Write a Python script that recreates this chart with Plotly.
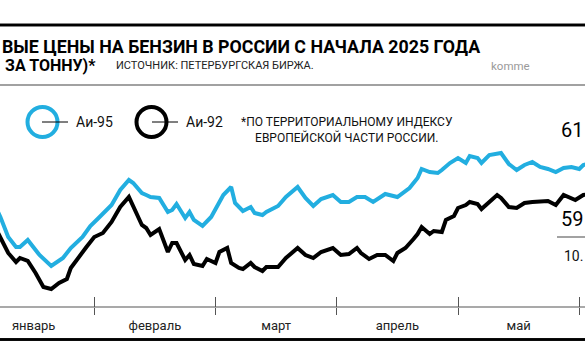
import plotly.graph_objects as go

# ---------------- data (rub per tonne) ----------------
months = ["январь", "февраль", "март", "апрель", "май", "июнь"]

dates_95 = ["01-06", "01-08", "01-10", "01-12", "01-13", "01-15", "01-18", "01-21", "01-24", "01-26",
            "01-29", "01-31", "02-02", "02-05", "02-07", "02-09", "02-10", "02-12", "02-13", "02-14",
            "02-16", "02-18", "02-19", "02-20", "02-22", "02-23", "02-24", "02-26", "02-28", "03-02",
            "03-03", "03-05", "03-06", "03-08", "03-10", "03-11", "03-13", "03-14", "03-16", "03-17",
            "03-19", "03-22", "03-24", "03-26", "03-28", "03-31", "04-02", "04-04", "04-06", "04-08",
            "04-10", "04-13", "04-16", "04-19", "04-21", "04-22", "04-24", "04-26", "04-27", "04-29",
            "05-01", "05-03", "05-04", "05-06", "05-07", "05-09", "05-12", "05-14", "05-16", "05-18",
            "05-20", "05-22", "05-24", "05-26", "05-28", "05-30", "06-01", "06-02", "06-04", "06-06",
            "06-10"]
ai95 = [59460, 58440, 57240, 56640, 56640, 57060, 56160, 55500, 55980, 56580,
        57240, 57900, 58380, 59160, 60060, 60660, 60480, 59880, 59760, 59640,
        59580, 58740, 58860, 59220, 58380, 58740, 58260, 57900, 58440, 59280,
        59760, 60240, 59280, 58800, 59040, 58680, 58560, 58740, 58980, 59100,
        59640, 60240, 59580, 59100, 59520, 59760, 59340, 59340, 59640, 59640,
        59340, 59820, 59640, 60180, 60780, 61320, 61140, 61080, 61260, 61680,
        61980, 61680, 62100, 61980, 61680, 62160, 62280, 61620, 61260, 61560,
        61740, 61440, 61320, 61140, 61380, 61440, 61320, 61560, 61680, 61860,
        61740]

dates_92 = ["01-06", "01-08", "01-10", "01-12", "01-13", "01-15", "01-17", "01-19", "01-21", "01-23",
            "01-25", "01-26", "01-28", "01-30", "02-01", "02-03", "02-05", "02-07", "02-09", "02-10",
            "02-12", "02-13", "02-14", "02-16", "02-18", "02-19", "02-20", "02-22", "02-23", "02-24",
            "02-26", "02-27", "03-01", "03-02", "03-04", "03-05", "03-07", "03-08", "03-10", "03-11",
            "03-13", "03-14", "03-17", "03-19", "03-20", "03-22", "03-24", "03-26", "03-28", "03-31",
            "04-02", "04-04", "04-06", "04-07", "04-09", "04-11", "04-13", "04-15", "04-16", "04-18",
            "04-20", "04-21", "04-22", "04-24", "04-25", "04-27", "04-28", "04-30", "05-01", "05-03",
            "05-04", "05-06", "05-07", "05-09", "05-11", "05-12", "05-14", "05-16", "05-18", "05-20",
            "05-24", "05-26", "05-28", "05-31", "06-02", "06-04", "06-06", "06-10"]
ai92 = [58140, 57180, 56280, 55740, 55980, 55800, 55080, 54240, 54120, 54480,
        54720, 55380, 56040, 56640, 57240, 57480, 58140, 59040, 59640, 59040,
        57960, 57780, 57360, 57720, 56340, 56880, 56880, 55860, 56160, 55620,
        55500, 55920, 55680, 56340, 56580, 55680, 55380, 55320, 55680, 55440,
        55200, 55440, 55440, 55980, 56160, 56580, 56160, 55980, 56340, 56580,
        56160, 56220, 56580, 56280, 55920, 56160, 56160, 55800, 56280, 56580,
        57120, 57420, 57840, 57420, 57600, 57540, 58260, 58500, 58980, 59160,
        59340, 59220, 58920, 59340, 59760, 59580, 59040, 58980, 59280, 59340,
        59400, 59160, 59760, 59460, 59760, 59820, 59880, 59940]

# texts as they appear in the (cropped) graphic
title_text = "ВЫЕ ЦЕНЫ НА БЕНЗИН В РОССИИ С НАЧАЛА 2025 ГОДА"
unit_text = "ЗА ТОННУ)*"
source_text = "ИСТОЧНИК: ПЕТЕРБУРГСКАЯ БИРЖА."
site_text = "komme"
note_text = "*ПО ТЕРРИТОРИАЛЬНОМУ ИНДЕКСУ<br>ЕВРОПЕЙСКОЙ ЧАСТИ РОССИИ."
series_names = ["Аи-95", "Аи-92"]
end_label_95 = "61"
end_label_92 = "59"
end_date_label = "10."

# each month gets the same width on the axis (as in the original graphic)
DAYS = [31, 28, 31, 30, 31, 30]


def month_pos(d):
    m, day = int(d[:2]), int(d[3:])
    return (m - 1) + (day - 1) / DAYS[m - 1]


x95 = [month_pos(d) for d in dates_95]
x92 = [month_pos(d) for d in dates_92]

# ---------------- styling ----------------
W, H = 585, 362
BLUE = "#22aee0"
FONT = "Roboto, Liberation Sans, sans-serif"


def px(x):
    return x / W


def py(y):
    return 1 - y / H


fig = go.Figure()
fig.add_trace(go.Scatter(x=x92, y=ai92, name=series_names[1], mode="lines",
                         line=dict(color="#000000", width=4), hoverinfo="skip", showlegend=False))
fig.add_trace(go.Scatter(x=x95, y=ai95, name=series_names[0], mode="lines",
                         line=dict(color=BLUE, width=4), hoverinfo="skip", showlegend=False))
# overlay axis carrying the upward part of the month-boundary ticks
fig.add_trace(go.Scatter(x=[], y=[], xaxis="x2", yaxis="y", showlegend=False, hoverinfo="skip"))

x_range = [27 / 121.25, 612 / 121.25]
axis_y_px = 307
top_px = 140
val_per_px = 60.0
ref_val, ref_px = 61500, 166
y_lo = ref_val - (axis_y_px - ref_px) * val_per_px
y_hi = ref_val + (ref_px - top_px) * val_per_px


def rule(y_mid, width, color, x0=-2, x1=W + 2):
    return dict(type="rect", xref="paper", yref="paper", x0=px(x0), x1=px(x1),
                y0=py(y_mid + width / 2), y1=py(y_mid - width / 2), fillcolor=color,
                line=dict(width=0))


shapes = [
    # legend symbols
    dict(type="circle", xref="paper", yref="paper", x0=px(27.5), x1=px(57.5), y0=py(137), y1=py(107),
         line=dict(color=BLUE, width=4)),
    dict(type="line", xref="paper", yref="paper", x0=px(42), x1=px(68), y0=py(122), y1=py(122),
         line=dict(color="#000", width=1)),
    dict(type="circle", xref="paper", yref="paper", x0=px(136.5), x1=px(166.5), y0=py(137), y1=py(107),
         line=dict(color="#000", width=4)),
    dict(type="line", xref="paper", yref="paper", x0=px(152), x1=px(178), y0=py(122), y1=py(122),
         line=dict(color="#000", width=1)),
    rule(85, 1, "#444"),                # thin rule under the heading
    rule(307, 1, "#555"),               # time axis line
    rule(237, 1, "#444", x0=557),       # callout separator
    rule(25, 2.6, "#000"),              # top heavy rule
    rule(339.5, 2.6, "#000"),           # bottom heavy rule
]

annotations = [
    dict(text=title_text, x=px(0), y=py(46), xanchor="left", yanchor="middle",
         font=dict(family=FONT, size=17.8, color="#000", weight=700)),
    dict(text=unit_text, x=px(3), y=py(66), xanchor="left", yanchor="middle",
         font=dict(family=FONT, size=16, color="#000", weight=700)),
    dict(text=source_text, x=px(114), y=py(66), xanchor="left", yanchor="middle",
         font=dict(family=FONT, size=11, color="#222")),
    dict(text=site_text, x=px(489), y=py(66), xanchor="left", yanchor="middle",
         font=dict(family=FONT, size=11.5, color="#9a9a9a")),
    dict(text=series_names[0], x=px(74), y=py(122), xanchor="left", yanchor="middle",
         font=dict(family=FONT, size=14, color="#111")),
    dict(text=series_names[1], x=px(184), y=py(122), xanchor="left", yanchor="middle",
         font=dict(family=FONT, size=14, color="#111")),
    dict(text=note_text, x=px(347), y=py(130), xanchor="center", yanchor="middle", align="center",
         font=dict(family=FONT, size=12, color="#111")),
    dict(text=end_label_95, x=1, y=py(130), xanchor="right", yanchor="middle",
         font=dict(family=FONT, size=20, color="#000")),
    dict(text=end_label_92, x=1, y=py(219), xanchor="right", yanchor="middle",
         font=dict(family=FONT, size=20, color="#000")),
    dict(text=end_date_label, x=1, y=py(256), xanchor="right", yanchor="middle",
         font=dict(family=FONT, size=14, color="#111")),
]
for a in annotations:
    a.update(xref="paper", yref="paper", showarrow=False)

fig.update_layout(
    width=W, height=H, autosize=False,
    margin=dict(l=0, r=0, t=0, b=0, pad=0),
    paper_bgcolor="white", plot_bgcolor="white",
    showlegend=False,
    xaxis=dict(range=x_range, domain=[0, 1], showgrid=False, zeroline=False,
               showline=False,
               tickmode="array", tickvals=[i + 0.5 for i in range(len(months))], ticktext=months,
               ticks="outside", ticklen=6, tickcolor="rgba(0,0,0,0)",
               minor=dict(tickmode="array", tickvals=list(range(1, len(months))),
                          ticks="outside", ticklen=7, tickcolor="#555", tickwidth=1),
               tickfont=dict(family=FONT, size=13, color="#222"), automargin=False, fixedrange=True),
    xaxis2=dict(range=x_range, overlaying="x", anchor="y", side="bottom", showgrid=False, zeroline=False,
                showline=False, tickmode="array", tickvals=list(range(1, len(months))),
                ticks="inside", ticklen=10, tickcolor="#555", tickwidth=1, showticklabels=False,
                automargin=False, fixedrange=True),
    yaxis=dict(range=[y_lo, y_hi], domain=[py(axis_y_px), py(top_px)], visible=False,
               fixedrange=True),
    shapes=shapes,
    annotations=annotations,
)

# make sure the two heavy rules are painted on top of everything once the page is drawn
rules_js = """
document.body.style.margin='0';document.body.style.overflow='hidden';
(function(){
  var gd = document.querySelector('.plotly-graph-div');
  var svg = gd && gd.querySelector('svg.main-svg:last-of-type');
  if(!svg){return;}
  [[23.7,2.6],[338.2,2.6]].forEach(function(r){
    var el = document.createElementNS('http://www.w3.org/2000/svg','rect');
    el.setAttribute('x','-2'); el.setAttribute('y', String(r[0]));
    el.setAttribute('width','590'); el.setAttribute('height', String(r[1]));
    el.setAttribute('fill','#000');
    svg.appendChild(el);
  });
})();
"""
fig.write_html("out.html", config={"displayModeBar": False, "staticPlot": True},
               post_script=rules_js)
